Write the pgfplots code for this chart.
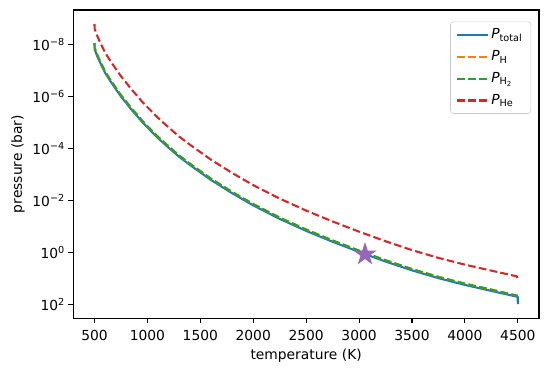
\documentclass[border=0pt]{standalone}
\usepackage{fontspec}
\setmainfont{DejaVu Sans}
\usepackage{pgfplots}
\pgfplotsset{compat=1.18}
\definecolor{tabblue}{HTML}{1F77B4}
\definecolor{taborange}{HTML}{FF7F0E}
\definecolor{tabgreen}{HTML}{2CA02C}
\definecolor{tabred}{HTML}{D62728}
\definecolor{tabpurple}{HTML}{9467BD}
\pgfdeclareplotmark{fstar}{%
  \pgfpathmoveto{\pgfpointpolar{90}{\pgfplotmarksize}}%
  \pgfpathlineto{\pgfpointpolar{126}{0.382\pgfplotmarksize}}%
  \pgfpathlineto{\pgfpointpolar{162}{\pgfplotmarksize}}%
  \pgfpathlineto{\pgfpointpolar{198}{0.382\pgfplotmarksize}}%
  \pgfpathlineto{\pgfpointpolar{234}{\pgfplotmarksize}}%
  \pgfpathlineto{\pgfpointpolar{270}{0.382\pgfplotmarksize}}%
  \pgfpathlineto{\pgfpointpolar{306}{\pgfplotmarksize}}%
  \pgfpathlineto{\pgfpointpolar{342}{0.382\pgfplotmarksize}}%
  \pgfpathlineto{\pgfpointpolar{18}{\pgfplotmarksize}}%
  \pgfpathlineto{\pgfpointpolar{54}{0.382\pgfplotmarksize}}%
  \pgfpathclose
  \pgfusepathqfillstroke}

\begin{document}
\begin{tikzpicture}
\begin{axis}[
  scale only axis, width=336.6pt, height=222.8pt,
  xmin=300, xmax=4700,
  ymode=log, ymin=4.79e-10, ymax=346.7, y dir=reverse,
  xtick={500,1000,1500,2000,2500,3000,3500,4000,4500},
  ytick={1e-8,1e-6,1e-4,1e-2,1,100},
  yticklabels={10\textsuperscript{−8},10\textsuperscript{−6},10\textsuperscript{−4},10\textsuperscript{−2},10\textsuperscript{0},10\textsuperscript{2}},
  xminorticks=false, yminorticks=false,
  tick align=outside, major tick length=3.5pt,
  tick style={black, line width=0.8pt},
  axis line style={line width=0.8pt},
  xtick pos=bottom, ytick pos=left,
  /pgf/number format/assume math mode=true,
  /pgf/number format/1000 sep={},
  tick label style={font=\fontsize{10}{12}\selectfont},
  xticklabel style={yshift=-1.5pt},
  yticklabel style={xshift=1pt},
  label style={font=\fontsize{10}{12}\selectfont},
  xlabel={temperature (K)}, ylabel={pressure (bar)},
  xlabel style={at={(axis description cs:0.5,-0.121)}, anchor=center},
  ylabel style={at={(axis description cs:-0.1188,0.5)}, anchor=center},
  legend style={at={(axis description cs:0.983,0.962)}, anchor=north east,
    draw=black!20, rounded corners=2pt, fill=white, fill opacity=0.8, text opacity=1,
    font=\fontsize{10}{12}\selectfont, row sep=3pt, inner xsep=4pt, inner ysep=3pt},
  legend cell align=left,
  legend image code/.code={\draw[#1] (0pt,0pt) -- (22pt,0pt);},
  every axis plot/.append style={line width=1.5pt},
]
\addplot[tabblue, solid] coordinates {
(500,1.514e-8) (525,2.818e-8) (550,4.786e-8) (600,1.259e-7) (650,2.630e-7)
(700,5.248e-7) (750,1.023e-6) (800,1.820e-6) (850,3.311e-6) (900,5.623e-6)
(950,9.772e-6) (1000,1.585e-5) (1100,4.074e-5) (1200,9.550e-5) (1300,2.138e-4)
(1400,4.365e-4) (1600,1.660e-3) (1800,5.370e-3) (2000,1.585e-2) (2250,5.248e-2)
(2500,0.1514) (2750,0.3981) (3000,0.9772) (3250,2.291) (3500,5.012)
(3750,10.0) (4000,18.20) (4250,30.90) (4499,52.48) (4500,100)
};
\addlegendentry{\textit{P}\textsubscript{total}}
\addplot[taborange, dash pattern=on 5.55pt off 2.4pt] coordinates {
(500,9.120e-9) (501,1.349e-8) (525,2.512e-8) (550,4.266e-8) (600,1.122e-7)
(650,2.344e-7) (700,4.677e-7) (750,9.120e-7) (800,1.622e-6) (850,2.951e-6)
(900,5.012e-6) (950,8.710e-6) (1000,1.413e-5) (1100,3.631e-5) (1200,8.511e-5)
(1300,1.905e-4) (1400,3.890e-4) (1600,1.479e-3) (1800,4.786e-3) (2000,1.413e-2)
(2250,4.677e-2) (2500,0.1349) (2750,0.3548) (3000,0.8710) (3250,2.042)
(3500,4.467) (3750,8.913) (4000,16.22) (4250,27.54) (4500,47.86)
};
\addlegendentry{\textit{P}\textsubscript{H}}
\addplot[tabgreen, dash pattern=on 5.55pt off 2.4pt] coordinates {
(500,9.120e-9) (501,1.349e-8) (525,2.512e-8) (550,4.266e-8) (600,1.122e-7)
(650,2.344e-7) (700,4.677e-7) (750,9.120e-7) (800,1.622e-6) (850,2.951e-6)
(900,5.012e-6) (950,8.710e-6) (1000,1.413e-5) (1100,3.631e-5) (1200,8.511e-5)
(1300,1.905e-4) (1400,3.890e-4) (1600,1.479e-3) (1800,4.786e-3) (2000,1.413e-2)
(2250,4.677e-2) (2500,0.1349) (2750,0.3548) (3000,0.8710) (3250,2.042)
(3500,4.467) (3750,8.913) (4000,16.22) (4250,27.54) (4500,47.86)
};
\addlegendentry{\textit{P}\textsubscript{H\textsubscript{2}}}
\addplot[tabred, dash pattern=on 5.55pt off 2.4pt] coordinates {
(500,1.660e-9) (501,2.512e-9) (525,4.677e-9) (550,7.943e-9) (600,2.089e-8)
(650,4.365e-8) (700,8.710e-8) (750,1.698e-7) (800,3.020e-7) (850,5.495e-7)
(900,9.333e-7) (950,1.622e-6) (1000,2.630e-6) (1100,6.761e-6) (1200,1.585e-5)
(1300,3.548e-5) (1400,7.244e-5) (1600,2.754e-4) (1800,8.913e-4) (2000,2.630e-3)
(2250,8.710e-3) (2500,2.512e-2) (2750,6.607e-2) (3000,0.1622) (3250,0.3802)
(3500,0.8318) (3750,1.660) (4000,3.020) (4250,5.129) (4490,8.511) (4500,10.96)
};
\addlegendentry{\textit{P}\textsubscript{He}}
\addplot[only marks, mark=fstar, mark size=7.3pt, tabpurple, line width=1pt,
  mark options={fill=tabpurple, draw=tabpurple, solid}, forget plot] coordinates {(3056,1.21)};
\coordinate (SW) at (axis description cs:0,0);
\coordinate (NE) at (axis description cs:1,1);
\end{axis}
\pgfresetboundingbox
\path ([shift={(-53pt,-38.1pt)}]SW) rectangle ([shift={(5.8pt,7.2pt)}]NE);
\end{tikzpicture}
\end{document}
